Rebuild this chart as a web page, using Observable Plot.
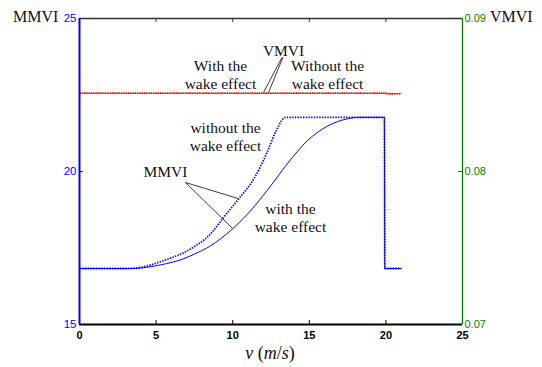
<!DOCTYPE html>
<html>
<head>
<meta charset="utf-8">
<script src="https://cdn.jsdelivr.net/npm/d3@7"></script>
<script src="https://cdn.jsdelivr.net/npm/@observablehq/plot@0.6"></script>
<style>
  html, body { margin: 0; padding: 0; background: #fff; }
  #chart svg { display: block; }
</style>
</head>
<body>
<div id="chart"></div>
<script>
// ---- data ----
const xTicks = [0, 5, 10, 15, 20, 25];
const leftTicks = [15, 20, 25];
const rightTicks = [0.07, 0.08, 0.09];

// MMVI with the wake effect (solid blue)
const vWith = [0, 3.5, 5.3, 6.8, 7.5, 8.55, 9.86, 10.95, 12.25, 13.56, 14.86, 16.17, 17.47, 18.3, 19.0, 19.9, 19.93, 21.0];
const mmviWith = [16.83, 16.83, 16.95, 17.15, 17.3, 17.57, 18.07, 18.6, 19.38, 20.25, 21.0, 21.48, 21.72, 21.77, 21.77, 21.77, 16.83, 16.83];

// MMVI without the wake effect (dotted blue)
const vWithout = [0, 3.1, 3.77, 5.5, 7.25, 8.55, 9.42, 10.4, 11.38, 12.25, 12.79, 13.45, 19.9, 19.93, 21.0];
const mmviWithout = [16.83, 16.83, 16.85, 17.09, 17.47, 17.96, 18.51, 19.11, 19.76, 20.63, 21.28, 21.77, 21.77, 16.83, 16.83];

// VMVI (right axis)
const vVmviWith = [0, 21.0];
const vmviWith = [0.0851, 0.0851];
const vVmviWithout = [0, 20.0, 20.03, 21.0];
const vmviWithout = [0.08512, 0.08512, 0.08508, 0.08508];

// annotations (data coordinates, right-axis values mapped onto left scale)
const notes = [
  {v: 13.32, y: 23.95, text: "VMVI"},
  {v: 9.2, y: 23.17, text: "With the\nwake effect"},
  {v: 16.19, y: 23.17, text: "Without the\nwake effect"},
  {v: 9.53, y: 21.14, text: "without the\nwake effect"},
  {v: 5.61, y: 20.0, text: "MMVI"},
  {v: 13.77, y: 18.5, text: "with the\nwake effect"}
];
const pointers = [
  {v1: 13.22, y1: 23.73, v2: 12.01, y2: 22.58},
  {v1: 13.28, y1: 23.73, v2: 12.34, y2: 22.58},
  {v1: 6.92, y1: 19.64, v2: 10.4, y2: 19.11},
  {v1: 6.92, y1: 19.64, v2: 9.97, y2: 18.15}
];

// ---- helpers ----
const toLeft = vm => 15 + (vm - 0.07) * 500;
const toRight = y => 0.07 + (y - 15) / 500;
const rows = (xs, ys, f = d => d) => xs.map((x, i) => ({x, y: f(ys[i])}));

const serif = "'Liberation Serif', 'Times New Roman', serif";
const sans = "'Liberation Sans', Arial, Helvetica, sans-serif";

const chart = Plot.plot({
  width: 542,
  height: 367,
  marginLeft: 79,
  marginRight: 80,
  marginTop: 18,
  marginBottom: 43,
  style: {background: "#fff", fontFamily: sans},
  x: {domain: [0, 25], label: null},
  y: {domain: [15, 25], label: null},
  marks: [
    // curves
    Plot.line(rows(vVmviWith, vmviWith, toLeft), {x: "x", y: "y", stroke: "#ff3030", strokeWidth: 0.8}),
    Plot.line(rows(vVmviWithout, vmviWithout, toLeft), {x: "x", y: "y", stroke: "#ff0000", strokeWidth: 1.8, strokeDasharray: "1.3,1", strokeLinecap: "butt"}),
    Plot.line(rows(vWith, mmviWith), {x: "x", y: "y", stroke: "#0000ff", strokeWidth: 1, curve: "monotone-x"}),
    Plot.line(rows(vWithout, mmviWithout), {x: "x", y: "y", stroke: "#0000ff", strokeWidth: 1.8, strokeDasharray: "1.4,1.3", strokeLinecap: "butt", curve: "monotone-x"}),
    // annotations
    Plot.link(pointers, {x1: "v1", y1: "y1", x2: "v2", y2: "y2", stroke: "#222", strokeWidth: 0.9}),
    Plot.text(notes, {x: "v", y: "y", text: "text", fontFamily: serif, fontSize: 15.5, lineHeight: 1.17, fill: "#111", textAnchor: "middle"}),
    // frame
    Plot.ruleY([25], {stroke: "#333", strokeWidth: 1.3}),
    Plot.ruleY([15], {stroke: "#000", strokeWidth: 2}),
    Plot.ruleX([0], {stroke: "#0000ff", strokeWidth: 2}),
    Plot.ruleX([25], {stroke: "#008000", strokeWidth: 1.3}),
    // inward ticks
    Plot.ruleX(xTicks.slice(1, -1), {y1: 15, y2: 15.13, stroke: "#000", strokeWidth: 1}),
    Plot.ruleX(xTicks.slice(1, -1), {y1: 25, y2: 24.87, stroke: "#333", strokeWidth: 1}),
    Plot.ruleY([20], {x1: 0, x2: 0.26, stroke: "#0000ff", strokeWidth: 1}),
    Plot.ruleY([20], {x1: 25, x2: 24.74, stroke: "#008000", strokeWidth: 1}),
    // axes
    Plot.axisX({ticks: xTicks, tickSize: 0, tickPadding: 7, fontWeight: "bold", fontSize: 11, fill: "#000", label: null}),
    Plot.axisY({ticks: leftTicks, anchor: "left", tickSize: 0, tickPadding: 3, fontSize: 11.5, fill: "#0000ff", label: null}),
    Plot.axisY({ticks: rightTicks.map(toLeft), anchor: "right", tickSize: 0, tickPadding: 2, fontSize: 11, fill: "#008000", label: null,
      tickFormat: d => toRight(d).toFixed(2)})
  ]
});

const svg = d3.select(chart);
svg.append("text").attr("x", 13).attr("y", 22).attr("text-anchor", "start").attr("font-family", serif).attr("font-size", 16).attr("fill", "#111").text("MMVI");
svg.append("text").attr("x", 490).attr("y", 22).attr("text-anchor", "start").attr("font-family", serif).attr("font-size", 16).attr("fill", "#111").text("VMVI");
const xl = svg.append("text").attr("x", 270).attr("y", 359).attr("text-anchor", "middle")
  .attr("font-family", serif).attr("font-size", 18).attr("fill", "#111");
xl.append("tspan").attr("font-style", "italic").text("v");
xl.append("tspan").text(" (");
xl.append("tspan").attr("font-style", "italic").text("m");
xl.append("tspan").text("/");
xl.append("tspan").attr("font-style", "italic").text("s");
xl.append("tspan").text(")");

document.getElementById("chart").appendChild(chart);
</script>
</body>
</html>
